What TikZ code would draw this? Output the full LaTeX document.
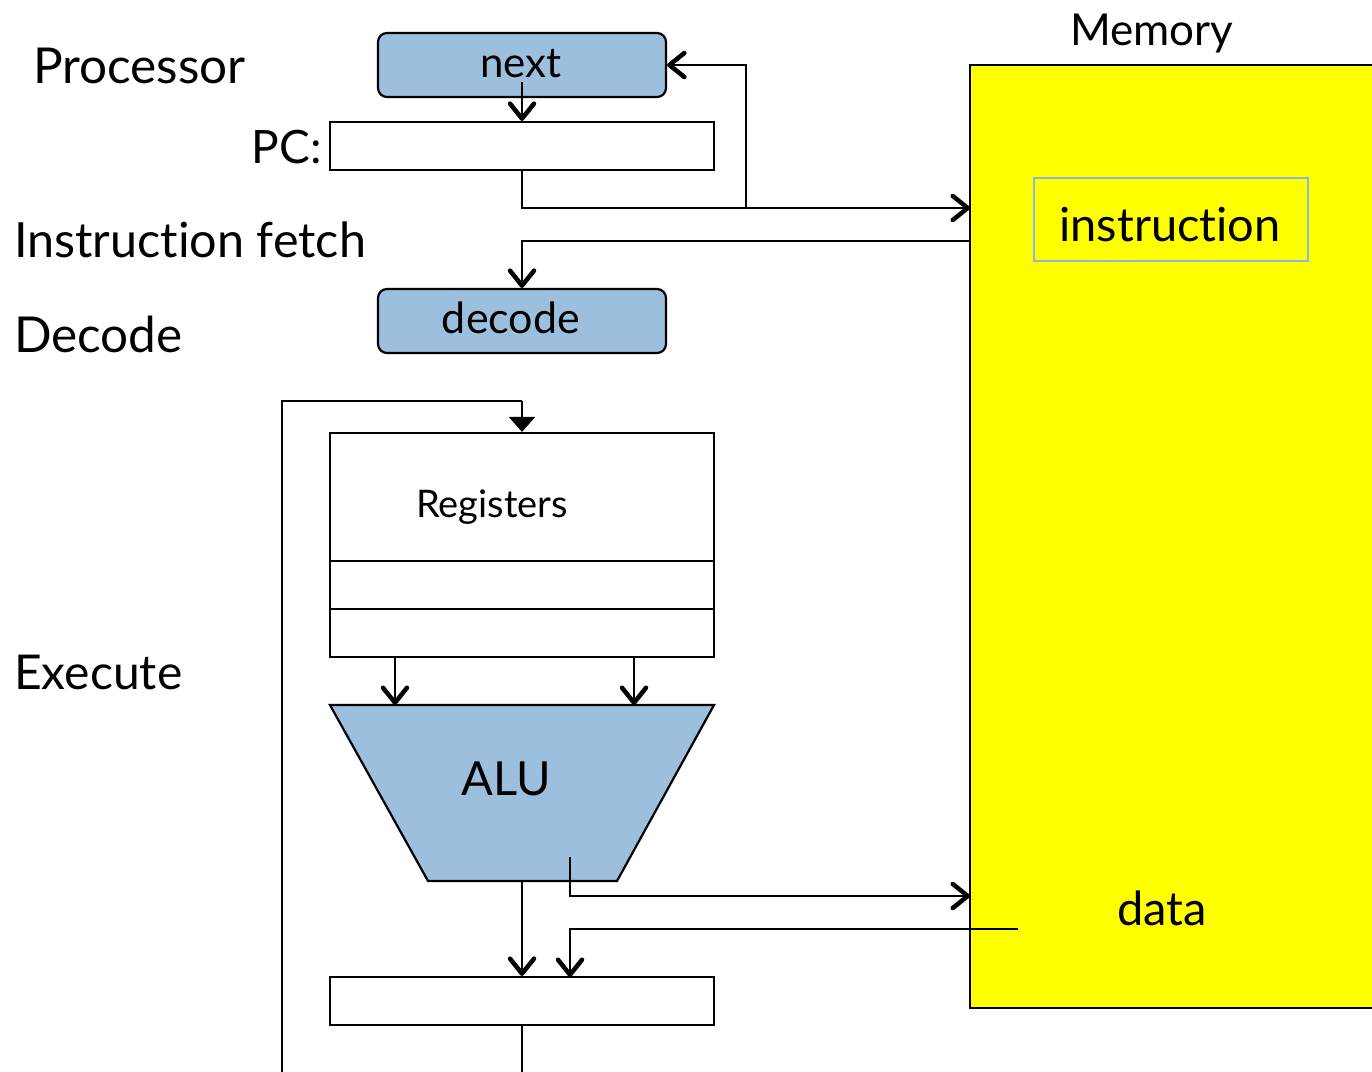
\documentclass[tikz,border=0pt]{standalone}
\usepackage{fontspec}
\setmainfont{Lato}[RawFeature={-liga,-clig,-calt,-dlig}]
\usetikzlibrary{arrows.meta}
\definecolor{boxblue}{RGB}{157,191,222}
\definecolor{memyellow}{RGB}{255,255,0}
\definecolor{framblue}{RGB}{142,180,227}
\tikzset{
  unit/.style={draw=black, line width=2.2pt, inner sep=0pt},
  bluebox/.style={unit, fill=boxblue, rounded corners=9pt, minimum width=288pt, minimum height=64pt},
  regbox/.style={unit, fill=white, minimum width=384pt, minimum height=48pt},
  lbl/.style={inner sep=0pt, font=\fontsize{#1}{#1}\selectfont},
  wire/.style={line width=2.4pt},
  vtip/.style={wire, -{Straight Barb[length=15pt, width=24pt, line width=4.5pt, round]}},
  ftip/.style={wire, -{Triangle[length=15pt, width=26pt]}},
}
\begin{document}
\begin{tikzpicture}[x=1pt, y=-1pt]
\clip (0,0) rectangle (1372,1071);
\fill[white] (0,0) rectangle (1372,1071);

% memory block
\path[fill=memyellow, draw=black, line width=2.2pt] (970,65) rectangle (1390,1008);
\coordinate (memtl) at (970,65);
\node[lbl=44, anchor=base west] (memlbl) at (1070,45) {Memory};
\node[draw=framblue, line width=1.5pt, minimum width=274pt, minimum height=83pt, inner sep=0pt] (instr) at (1171,219.5) {};
\node[lbl=47, anchor=base] (instrtxt) at (1170,241) {instruct\kern0pt ion};
\node[lbl=47, anchor=base] (datatxt) at (1162,925) {data};

% stage labels
\node[lbl=49.5, anchor=base west] (proc) at (33,83) {Processor};
\node[lbl=48.5, anchor=base west] (fetch) at (14,257) {Instruct\kern0pt ion fetch};
\node[lbl=49.5, anchor=base west] (dec) at (14,352) {Decode};
\node[lbl=48, anchor=base west] (exe) at (14,689) {Execute};

% next-PC logic and PC register
\node[bluebox] (next) at (522,65) {};
\node[lbl=42, anchor=base] (nexttxt) at (521,77) {next};
\node[regbox] (pc) at (522,146) {};
\node[lbl=46, anchor=base east] (pclbl) at (322,163) {PC:};

% decoder
\node[bluebox] (decode) at (522,321) {};
\node[lbl=43, anchor=base] (decodetxt) at (511,333) {decode};

% register file
\node[unit, fill=white, minimum width=384pt, minimum height=224pt] (regs) at (522,545) {};
\draw[wire] (330,561) -- (714,561);
\draw[wire] (330,609) -- (714,609);
\node[lbl=38, anchor=base] (regtxt) at (492,517) {Registers};

% ALU
\coordinate (alutl) at (330,705);
\coordinate (alutr) at (714,705);
\coordinate (alubr) at (617,881);
\coordinate (alubl) at (428,881);
\draw[fill=boxblue, line width=2.2pt, line join=miter] (alutl) -- (alutr) -- (alubr) -- (alubl) -- cycle;
\node[lbl=47, anchor=base] (alutxt) at (506,795) {ALU};

% result register
\node[regbox] (res) at (522,1001) {};

% wiring
\coordinate (nextout) at (522,82);
\draw[vtip] (nextout) -- (pc.north);
\coordinate (fetchaddr) at (970,208);
\coordinate (branch) at (746,208);
\draw[vtip] (pc.south) |- (fetchaddr);
\draw[vtip] (branch) |- (next.east);
\coordinate (instrout) at (970,241);
\draw[vtip] (instrout) -| (decode.north);
\coordinate (wbbottom) at (282,1075);
\coordinate (wbtop) at (522,401);
\draw[wire] (wbbottom) |- (wbtop);
\draw[ftip] (wbtop) -- (regs.north);
\draw[vtip] (395,657) -- (395,705);
\draw[vtip] (634,657) -- (634,705);
\coordinate (alubot) at (522,881);
\draw[vtip] (alubot) -- (res.north);
\coordinate (aluaddr) at (570,857);
\coordinate (dataaddr) at (970,896);
\draw[vtip] (aluaddr) |- (dataaddr);
\coordinate (dataout) at (1018,929);
\coordinate (resin) at (570,977);
\draw[vtip] (dataout) -| (resin);
\coordinate (resbottom) at (522,1075);
\draw[wire] (res.south) -- (resbottom);
\end{tikzpicture}
\end{document}
